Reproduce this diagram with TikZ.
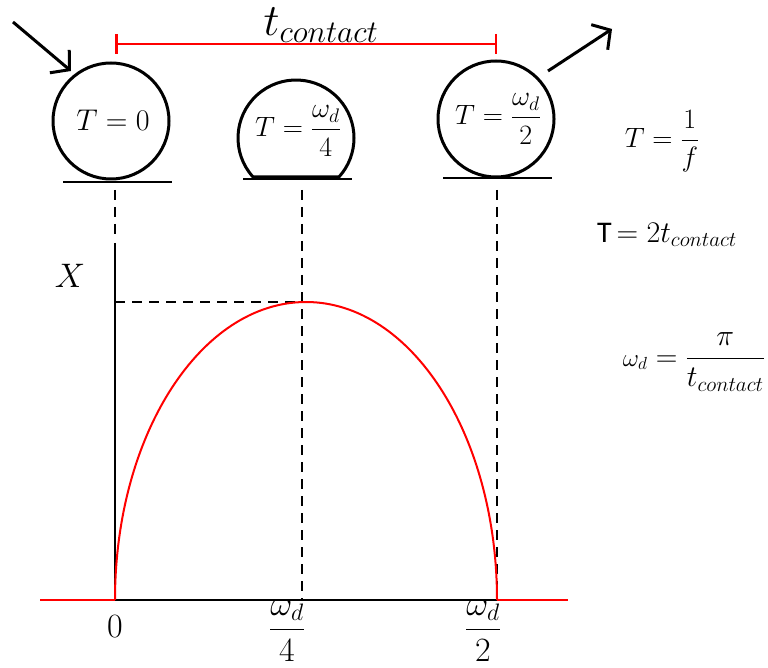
\documentclass[tikz,border=0pt]{standalone}
\usepackage{fix-cm}
\usepackage{amsmath}
\usepackage{fontspec}
\newfontfamily\calibri{Carlito}
\usetikzlibrary{arrows.meta}
\begin{document}
\begin{tikzpicture}[x=1pt,y=-1pt,
  ball/.style={draw, circle, line width=3pt, minimum size=116pt, inner sep=0pt},
  ballline/.style={line width=3pt},
  ground/.style={line width=2pt},
  guide/.style={line width=1.8pt, dash pattern=on 10pt off 7pt},
  redline/.style={red, line width=2pt},
  motion/.style={line width=3pt, -{Straight Barb[length=13pt,width=30pt]}},
  lbl/.style={inner sep=0pt, font=\fontsize{28}{32}\selectfont},
  rlbl/.style={inner sep=0pt, font=\fontsize{30}{34}\selectfont},
  tick/.style={inner sep=0pt, font=\fontsize{34}{38}\selectfont},
]
\useasboundingbox (0,0) rectangle (768,668);

% balls
\node[ball] (b1) at (111,121) {};
\node[lbl, font=\fontsize{30}{34}\selectfont] (l1) at (113,120) {$T=0$};

\draw[ballline] (296,138) ++(137.8:58) arc[start angle=137.8, end angle=402.2, radius=58] -- cycle;
\node[lbl] (l2) at (298,131) {$T=\dfrac{\omega_d}{4}$};

\node[ball] (b3) at (496,119) {};
\node[lbl] (l3) at (498,119) {$T=\dfrac{\omega_d}{2}$};

% ground lines
\coordinate (g1a) at (63,182); \coordinate (g1b) at (172,182);
\coordinate (g2a) at (243,179); \coordinate (g2b) at (352,179);
\coordinate (g3a) at (443,178); \coordinate (g3b) at (552,178);
\draw[ground] (g1a) -- (g1b);
\draw[ground] (g2a) -- (g2b);
\draw[ground] (g3a) -- (g3b);

% motion arrows
\coordinate (a1s) at (13,22); \coordinate (a1e) at (71,71);
\coordinate (a2s) at (548,71); \coordinate (a2e) at (612,29);
\draw[motion] (a1s) -- (a1e);
\draw[motion] (a2s) -- (a2e);

% contact time bar
\coordinate (t0) at (115,44); \coordinate (t1) at (497,44);
\draw[red, line width=2.5pt, {Bar[width=20pt]}-{Bar[width=20pt]}] (t0) -- (t1);
\node[inner sep=0pt, anchor=base, font=\fontsize{45}{52}\selectfont] (tc) at (321,36) {$t_{contact}$};

% graph
\coordinate (o) at (115,600);
\coordinate (q) at (302,600);
\coordinate (h) at (497,600);
\coordinate (ytop) at (115,243);
\coordinate (peak) at (302,302);
\coordinate (ypk) at (115,302);
\coordinate (xl) at (40,600);
\coordinate (xr) at (568,600);

\draw[guide] (115,190) -- (115,234);
\draw[guide] (302,190) -- (q);
\draw[guide] (497,190) -- (h);
\draw[guide] (ypk) -- (peak);

\draw[line width=2pt] (ytop) -- (o) -- (h);
\draw[redline] (xl) -- (o);
\draw[redline] (h) -- (xr);
\draw[redline] (o) arc[start angle=180, end angle=360, x radius=191, y radius=298];

\node[inner sep=0pt, font=\fontsize{34}{40}\selectfont] (X) at (70,276) {$X$};

\node[tick] (k0) at (115,627) {$0$};
\node[tick] (k1) at (287,631) {$\dfrac{\omega_d}{4}$};
\node[tick] (k2) at (483,631) {$\dfrac{\omega_d}{2}$};

% formulas
\node[lbl] (f1) at (662,141) {$T=\dfrac{1}{f}$};
\node[rlbl] (f2) at (667,235) {{\calibri T}$\,=2t_{contact}$};
\node[rlbl, anchor=east] (f3) at (765,362) {{\fontsize{25}{28}\selectfont$\omega_d$}$\;=\dfrac{\pi}{t_{contact}}$};
\end{tikzpicture}
\end{document}
